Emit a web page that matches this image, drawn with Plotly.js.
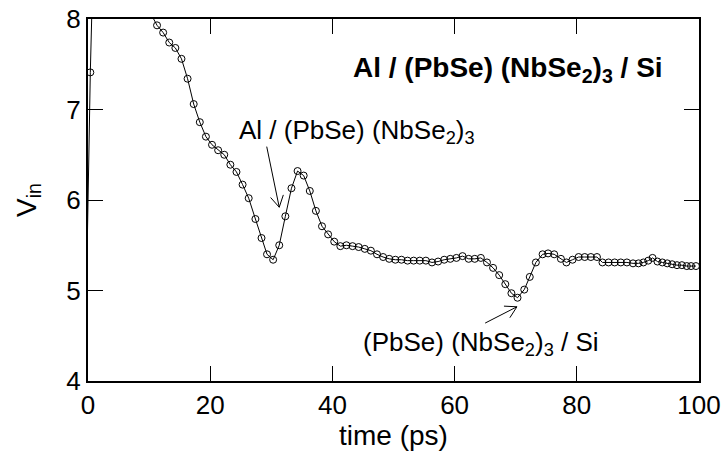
<!DOCTYPE html>
<html>
<head>
<meta charset="utf-8">
<script src="https://cdn.plot.ly/plotly-3.0.1.min.js"></script>
<style>html,body{margin:0;padding:0;background:#fff;}#chart{width:724px;height:456px;}</style>
</head>
<body>
<div id="chart"></div>
<script>
// time (ps)
var timePs = [-0.65, 0.38, 1.35, 2.35, 3.35, 4.35, 5.35, 6.35, 7.35, 8.35, 9.35, 10.35,
  11.3, 12.3, 13.3, 14.3, 15.3, 16.3, 17.3, 18.3, 19.3, 20.3,
  21.3, 22.3, 23.3, 24.3, 25.3, 26.3, 27.4, 28.4, 29.3, 30.3,
  31.3, 32.3, 33.3, 34.3, 35.3, 36.3, 37.3, 38.3, 39.3, 40.3,
  41.3, 42.3, 43.3, 44.3, 45.3, 46.3, 47.3, 48.3, 49.3, 50.3,
  51.3, 52.3, 53.3, 54.3, 55.3, 56.3, 57.3, 58.3, 59.3, 60.3,
  61.3, 62.3, 63.3, 64.3, 65.3, 66.3, 67.3, 68.3, 69.3, 70.3,
  71.4, 72.3, 73.3, 74.4, 75.3, 76.3, 77.4, 78.3, 79.3, 80.3,
  81.3, 82.3, 83.3, 84.2, 85.2, 86.2, 87.2, 88.2, 89.2, 90.1,
  90.9, 91.7, 92.4, 93.2, 94.0, 94.8, 95.6, 96.4, 97.2, 98.0, 98.7, 99.5];
// V_in
var vIn = [3.5, 7.41, 10.0, 10.3, 10.2, 9.9, 9.5, 9.1, 8.8, 8.5, 8.25, 8.05,
  7.93, 7.85, 7.74, 7.68, 7.56, 7.34, 7.06, 6.86, 6.70, 6.61,
  6.55, 6.50, 6.39, 6.31, 6.17, 6.02, 5.79, 5.58, 5.40, 5.34,
  5.50, 5.82, 6.13, 6.32, 6.27, 6.10, 5.88, 5.71, 5.62, 5.54,
  5.49, 5.50, 5.49, 5.48, 5.46, 5.44, 5.40, 5.37, 5.35, 5.34,
  5.34, 5.33, 5.33, 5.33, 5.33, 5.31, 5.32, 5.34, 5.35, 5.36,
  5.38, 5.35, 5.35, 5.36, 5.31, 5.25, 5.17, 5.07, 4.97, 4.92,
  5.01, 5.15, 5.31, 5.40, 5.41, 5.40, 5.35, 5.31, 5.34, 5.37,
  5.37, 5.37, 5.37, 5.31, 5.31, 5.31, 5.31, 5.31, 5.30, 5.30,
  5.31, 5.33, 5.36, 5.32, 5.31, 5.30, 5.29, 5.28, 5.28, 5.27, 5.27, 5.27];

var xTickVals = [0, 20, 40, 60, 80, 100];
var yTickVals = [4, 5, 6, 7, 8];

var titleText = '<b>Al / (PbSe) (NbSe<sub>2</sub>)<sub>3</sub> / Si</b>';
var label1Text = 'Al / (PbSe) (NbSe<sub>2</sub>)<sub>3</sub>';
var label2Text = '(PbSe) (NbSe<sub>2</sub>)<sub>3</sub> / Si';

var FONT = '"Liberation Sans", Arial, Helvetica, sans-serif';

var W = 724, H = 456;
var M = {l: 88, r: 25, t: 19, b: 75};
var xRange = [0, 100], yRange = [4, 8];
var pxPerX = (W - M.l - M.r) / (xRange[1] - xRange[0]);
var pxPerY = (H - M.t - M.b) / (yRange[1] - yRange[0]);

// arrow barbs drawn as thin open V (in pixel geometry, converted back to data units)
function barbPath(tipX, tipY, tailX, tailY, len, angDeg) {
  var dx = (tailX - tipX) * pxPerX, dy = -(tailY - tipY) * pxPerY; // screen coords
  var L = Math.sqrt(dx * dx + dy * dy); dx /= L; dy /= L;
  var a = angDeg * Math.PI / 180;
  function rot(s) {
    var c = Math.cos(s * a), sn = Math.sin(s * a);
    var rx = dx * c - dy * sn, ry = dx * sn + dy * c;
    return [tipX + rx * len / pxPerX, tipY - ry * len / pxPerY];
  }
  var p1 = rot(1), p2 = rot(-1);
  return 'M' + p1[0] + ',' + p1[1] + ' L' + tipX + ',' + tipY + ' L' + p2[0] + ',' + p2[1];
}

var arrow1 = {tip: [31.3, 5.92], tail: [29.25, 6.59]};
var arrow2 = {tip: [70.2, 4.82], tail: [65.0, 4.64]};

var trace = {
  x: timePs, y: vIn, type: 'scatter', mode: 'lines+markers',
  line: {color: '#000', width: 1},
  marker: {symbol: 'circle-open', size: 7, color: '#000', line: {width: 1, color: '#000'}},
  cliponaxis: true, showlegend: false
};

var axisCommon = {
  showgrid: false, zeroline: false, showline: true, linecolor: '#000', linewidth: 2,
  mirror: 'ticks', ticks: 'inside', ticklen: 15, tickwidth: 1, tickcolor: '#000',
  tickfont: {family: FONT, size: 26, color: '#000'}
};

var layout = {
  width: W, height: H,
  margin: M,
  paper_bgcolor: '#fff', plot_bgcolor: '#fff',
  font: {family: FONT, color: '#000'},
  xaxis: Object.assign({}, axisCommon, {
    range: xRange, tickvals: xTickVals,
    title: {text: 'time (ps)', font: {family: FONT, size: 28, color: '#000'}, standoff: 4}
  }),
  yaxis: Object.assign({}, axisCommon, {
    range: yRange, tickvals: yTickVals,
    title: {text: 'V<sub>in</sub>', font: {family: FONT, size: 28, color: '#000'}, standoff: 22}
  }),
  annotations: [
    {xref: 'x', yref: 'y', x: 68.7, y: 7.44, text: titleText,
     showarrow: false, font: {family: FONT, size: 28, color: '#000'}},
    {xref: 'x', yref: 'y', x: 44.0, y: 6.76, text: label1Text,
     showarrow: false, font: {family: FONT, size: 26, color: '#000'}},
    {xref: 'x', yref: 'y', x: 64.3, y: 4.41, text: label2Text,
     showarrow: false, font: {family: FONT, size: 26, color: '#000'}}
  ],
  shapes: [
    {type: 'line', xref: 'x', yref: 'y', x0: arrow1.tail[0], y0: arrow1.tail[1], x1: arrow1.tip[0], y1: arrow1.tip[1],
     line: {color: '#000', width: 1}},
    {type: 'path', xref: 'x', yref: 'y', path: barbPath(arrow1.tip[0], arrow1.tip[1], arrow1.tail[0], arrow1.tail[1], 13, 30),
     line: {color: '#000', width: 1}},
    {type: 'line', xref: 'x', yref: 'y', x0: arrow2.tail[0], y0: arrow2.tail[1], x1: arrow2.tip[0], y1: arrow2.tip[1],
     line: {color: '#000', width: 1}},
    {type: 'path', xref: 'x', yref: 'y', path: barbPath(arrow2.tip[0], arrow2.tip[1], arrow2.tail[0], arrow2.tail[1], 13, 30),
     line: {color: '#000', width: 1}}
  ]
};

Plotly.newPlot('chart', [trace], layout, {displayModeBar: false, staticPlot: true});
</script>
</body>
</html>
